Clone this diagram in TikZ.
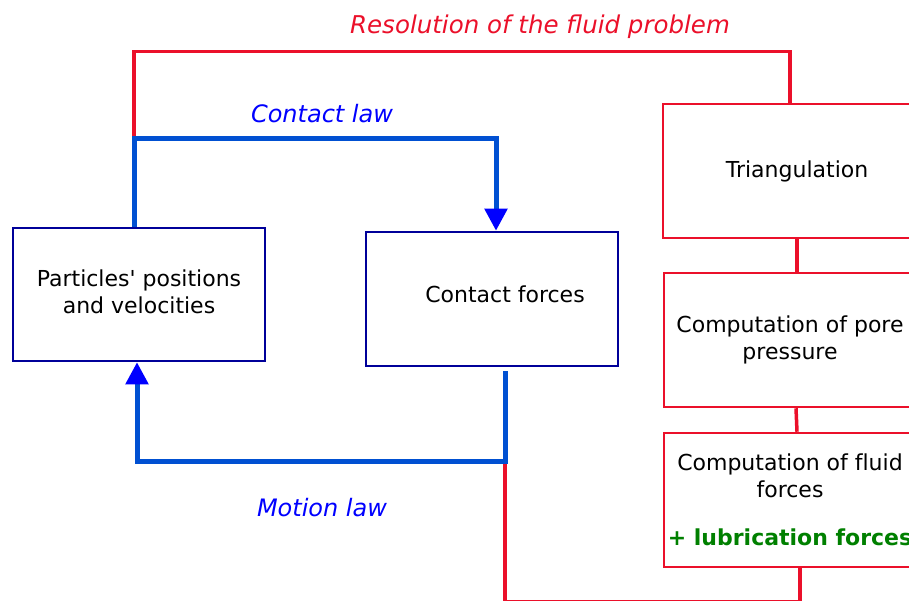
\documentclass[tikz,border=0pt]{standalone}
\usepackage{fontspec}
\setmainfont{DejaVu Sans}[Ligatures=CommonOff]
\usetikzlibrary{arrows.meta,positioning}
\definecolor{boxnavy}{RGB}{0,0,153}
\definecolor{fluidred}{RGB}{235,16,42}
\definecolor{lawblue}{RGB}{0,80,210}
\definecolor{tipblue}{RGB}{0,0,255}
\definecolor{lubgreen}{RGB}{0,128,0}

\begin{document}
\begin{tikzpicture}[
    x=1pt, y=-1pt,
    dembox/.style={draw=boxnavy, line width=2.5pt, minimum width=252pt, minimum height=133pt,
        inner sep=0pt, align=center, font=\fontsize{22}{27}\selectfont},
    fluidbox/.style={dembox, draw=fluidred, minimum height=134pt},
    lawline/.style={lawblue, line width=5pt, -{Triangle[length=22pt, width=22pt, color=tipblue]}},
    fluidline/.style={fluidred, line width=3.5pt},
    lawlabel/.style={font=\itshape\fontsize{24}{28}\selectfont, text=tipblue}
]
    \useasboundingbox (0,0) rectangle (909,601);
    \clip (0,0) rectangle (909,601);

    \node[dembox] (particles) at (139,294.5) {\raisebox{12pt}{\begin{tabular}{@{}c@{}}
        Particles\textquotesingle{} positions\\and velocities\end{tabular}}};
    \node[dembox, minimum height=134pt] (contact) at (492,299) {\hspace*{26pt}\raisebox{10pt}{Contact forces}};

    \node[fluidbox, minimum width=268pt] (triang) at (797,171) {Triangulation};
    \node[fluidbox] (pore) at (790,340) {Computation of pore\\pressure};
    \node[fluidbox] (fforce) at (790,500) {Computation of fluid\\forces\\[21pt]
        \textcolor{lubgreen}{\bfseries + lubrication forces}};

    % DEM loop
    \draw[lawline] ([xshift=-5pt]particles.north) -- ++(0,-88) coordinate (lawcorner)
        -| ([xshift=4pt]contact.north);
    \draw[lawline] ([xshift=13pt, yshift=-4pt]contact.south) -- ++(0,90) coordinate (motioncorner)
        -| ([xshift=-2pt]particles.south);

    % fluid coupling
    \draw[fluidline] ([yshift=2.5pt]lawcorner) -- ++(0,-84.5) -| ([xshift=-7pt]triang.north);
    \draw[fluidline] (triang.south) -- (triang.south |- pore.north);
    \draw[fluidline] ([xshift=6pt]pore.south) -- ([xshift=7pt]fforce.north);
    \draw[fluidline] ([xshift=10pt]fforce.south) -- ++(0,33) -| ([yshift=-2.5pt]motioncorner);

    \node[lawlabel] (contactlaw) at (322,114) {Contact law};
    \node[lawlabel] (motionlaw) at (322,508) {Motion law};
    \node[lawlabel, text=fluidred, font=\itshape\fontsize{24.5}{28}\selectfont] (fluidtitle) at (540,27) {Resolution of the ﬂuid problem};
\end{tikzpicture}
\end{document}
